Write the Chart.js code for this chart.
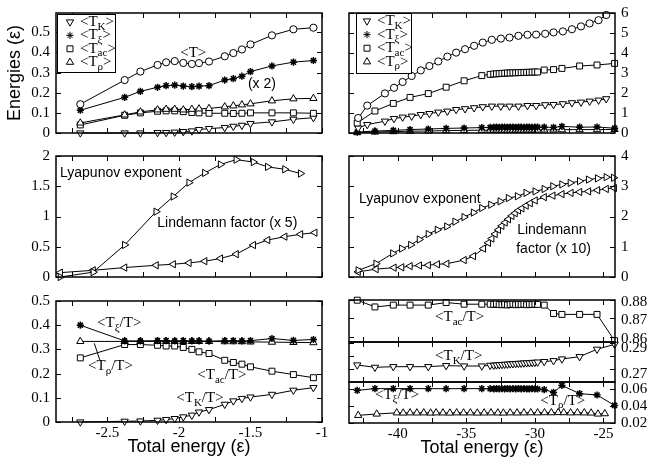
<!DOCTYPE html>
<html>
<head>
<meta charset="utf-8">
<script src="https://cdn.jsdelivr.net/npm/chart.js@4/dist/chart.umd.min.js"></script>
<style>
  html, body { margin: 0; padding: 0; background: #fff; }
  #wrap { position: relative; width: 651px; height: 461px; overflow: hidden; }
  canvas { position: absolute; }
</style>
</head>
<body>
<div id="wrap"></div>
<script>
// ---- datos: paneles de la izquierda (energia total -2.9 .. -1) ----
const xLeft = [-2.69, -2.38, -2.27, -2.15, -2.09, -2.03, -1.97, -1.91, -1.86, -1.79, -1.68, -1.62, -1.56, -1.50, -1.35, -1.20, -1.06];
const tlT    = [0.143, 0.263, 0.305, 0.338, 0.351, 0.357, 0.348, 0.343, 0.347, 0.355, 0.381, 0.397, 0.415, 0.440, 0.485, 0.515, 0.523];
const tlTxi2 = [0.113, 0.177, 0.207, 0.227, 0.235, 0.238, 0.233, 0.230, 0.233, 0.235, 0.263, 0.270, 0.282, 0.305, 0.333, 0.352, 0.360];
const tlTrho = [0.050, 0.090, 0.105, 0.115, 0.118, 0.118, 0.115, 0.118, 0.120, 0.122, 0.130, 0.135, 0.140, 0.145, 0.160, 0.170, 0.172];
const tlTac  = [0.040, 0.088, 0.100, 0.108, 0.110, 0.110, 0.106, 0.102, 0.100, 0.098, 0.098, 0.097, 0.098, 0.100, 0.100, 0.100, 0.098];
const tlTK   = [0.000, 0.000, 0.000, 0.002, 0.002, 0.004, 0.007, 0.010, 0.017, 0.022, 0.027, 0.033, 0.038, 0.047, 0.055, 0.068, 0.076];

const xLyapL = [-2.83, -2.60, -2.38, -2.16, -2.04, -1.93, -1.82, -1.71, -1.60, -1.48, -1.38, -1.26, -1.15];
const lyapL  = [0.00, 0.08, 0.53, 1.08, 1.33, 1.56, 1.72, 1.86, 1.94, 1.90, 1.82, 1.78, 1.71];
const xLindL = [-2.83, -2.60, -2.38, -2.16, -2.04, -1.93, -1.82, -1.71, -1.60, -1.48, -1.38, -1.26, -1.15, -1.05];
const lindL  = [0.072, 0.111, 0.156, 0.194, 0.211, 0.233, 0.261, 0.306, 0.378, 0.528, 0.611, 0.667, 0.706, 0.733];

const blTxi  = [0.400, 0.335, 0.335, 0.336, 0.336, 0.335, 0.336, 0.335, 0.335, 0.334, 0.336, 0.336, 0.335, 0.336, 0.345, 0.337, 0.341];
const blTrho = [0.333, 0.333, 0.333, 0.333, 0.333, 0.333, 0.333, 0.333, 0.333, 0.333, 0.332, 0.332, 0.332, 0.331, 0.330, 0.329, 0.328];
const blTac  = [0.265, 0.320, 0.320, 0.317, 0.314, 0.314, 0.308, 0.300, 0.290, 0.283, 0.255, 0.246, 0.239, 0.228, 0.210, 0.196, 0.183];
const blTK   = [0.000, 0.003, 0.004, 0.007, 0.010, 0.014, 0.021, 0.028, 0.041, 0.051, 0.073, 0.087, 0.097, 0.103, 0.114, 0.131, 0.142];

// ---- datos: paneles de la derecha (energia total -43.5 .. -24) ----
const xTR  = [-42.88, -42.22, -40.93, -40.27, -39.64, -38.98, -38.32, -37.69, -37.04, -36.38, -35.74, -35.09, -34.43, -33.80, -33.14, -32.48, -31.85, -31.20, -30.54, -29.91, -29.25, -28.64, -27.96, -27.30, -26.64, -26.01, -25.36, -24.80];
const trT  = [0.75, 1.37, 1.98, 2.26, 2.55, 2.85, 3.13, 3.35, 3.58, 3.82, 4.02, 4.19, 4.36, 4.52, 4.66, 4.72, 4.77, 4.86, 4.91, 4.92, 4.96, 5.03, 5.08, 5.19, 5.33, 5.48, 5.64, 5.90];
const trTK = [0.25, 0.42, 0.59, 0.72, 0.79, 0.84, 0.92, 0.97, 1.04, 1.09, 1.17, 1.21, 1.26, 1.31, 1.34, 1.34, 1.34, 1.34, 1.37, 1.37, 1.41, 1.42, 1.46, 1.51, 1.54, 1.59, 1.64, 1.71];

const xR = [-42.95, -41.66, -40.32, -39.10, -37.77, -36.47, -35.16, -33.87, -33.26,
            -33.0, -32.8, -32.6, -32.4, -32.2, -32.0, -31.8, -31.6, -31.4, -31.2, -31.0, -30.8, -30.6, -30.4, -30.2, -30.0, -29.8,
            -29.32, -28.64, -28.03, -26.74, -25.47, -24.19];
const trTac  = [0.50, 1.10, 1.48, 1.78, 1.97, 2.29, 2.61, 2.87, 2.93,
                2.95, 2.96, 2.97, 2.98, 2.99, 3.00, 3.00, 3.01, 3.01, 3.02, 3.02, 3.03, 3.03, 3.04, 3.04, 3.05, 3.05,
                3.15, 3.17, 3.23, 3.35, 3.40, 3.48];
const trTxi  = [0.044, 0.10, 0.13, 0.17, 0.20, 0.23, 0.25, 0.27, 0.28,
                0.28, 0.29, 0.28, 0.29, 0.29, 0.28, 0.29, 0.29, 0.28, 0.29, 0.29, 0.28, 0.29, 0.29, 0.28, 0.29, 0.29,
                0.29, 0.28, 0.33, 0.29, 0.30, 0.24];
const trTrho = [0.022, 0.05, 0.07, 0.09, 0.10, 0.12, 0.13, 0.14, 0.145,
                0.145, 0.15, 0.145, 0.15, 0.15, 0.145, 0.15, 0.15, 0.15, 0.155, 0.15, 0.15, 0.155, 0.15, 0.155, 0.155, 0.15,
                0.155, 0.16, 0.165, 0.17, 0.17, 0.18];
const brTac  = [0.8800, 0.8763, 0.8773, 0.8773, 0.8773, 0.8787, 0.8778, 0.8778, 0.8778,
                0.8777, 0.8779, 0.8776, 0.8775, 0.8777, 0.8774, 0.8776, 0.8778, 0.8775, 0.8777, 0.8776, 0.8778, 0.8775, 0.8777, 0.8776, 0.8778, 0.8777,
                0.8773, 0.8727, 0.8722, 0.8722, 0.8722, 0.8578];
const brTK   = [0.2733, 0.2715, 0.2720, 0.2720, 0.2720, 0.2728, 0.2725, 0.2725, 0.2730,
                0.2731, 0.2733, 0.2735, 0.2736, 0.2738, 0.2739, 0.2741, 0.2742, 0.2744, 0.2745, 0.2746, 0.2748, 0.2749, 0.2750, 0.2752, 0.2753, 0.2755,
                0.2759, 0.2766, 0.2779, 0.2797, 0.2854, 0.2892];
const brTxi  = [0.0584, 0.0604, 0.0604, 0.0604, 0.0604, 0.0603, 0.0604, 0.0604, 0.0603,
                0.0602, 0.0604, 0.0601, 0.0603, 0.0602, 0.0604, 0.0601, 0.0603, 0.0602, 0.0604, 0.0601, 0.0603, 0.0602, 0.0601, 0.0603, 0.0602, 0.0600,
                0.0592, 0.0560, 0.0642, 0.0545, 0.0529, 0.0407];
const xRhoR  = [-42.88, -41.53, -40.07, -39.6, -39.1, -38.6, -38.1, -37.6, -37.2, -36.7, -36.2, -35.7, -35.2, -34.7, -34.2, -33.7, -33.2,
                -32.7, -32.3, -31.8, -31.3, -30.8, -30.3, -29.8, -29.3, -28.8, -28.3, -27.9, -27.4, -26.9, -26.4, -25.9, -25.4, -24.9];
const brTrho = [0.0290, 0.0306, 0.0320, 0.0318, 0.0320, 0.0319, 0.0320, 0.0318, 0.0320, 0.0319, 0.0318, 0.0320, 0.0319, 0.0320, 0.0318, 0.0319, 0.0320,
                0.0319, 0.0318, 0.0320, 0.0319, 0.0320, 0.0321, 0.0320, 0.0322, 0.0321, 0.0323, 0.0322, 0.0320, 0.0321, 0.0320, 0.0318, 0.0306, 0.0310];

const xLyapR = [-42.88, -41.58, -40.36, -39.71, -39.05, -38.42, -37.77, -37.11, -36.42, -35.82, -35.16, -34.48, -33.87, -33.21, -32.53, -31.93, -31.27, -30.64, -29.98, -29.32, -28.69, -28.03, -27.42, -26.74, -26.09, -25.43, -24.80, -24.26];
const lyapR  = [0.22, 0.44, 0.78, 0.94, 1.06, 1.24, 1.42, 1.56, 1.67, 1.83, 1.98, 2.13, 2.28, 2.39, 2.50, 2.61, 2.67, 2.78, 2.83, 2.91, 3.00, 3.06, 3.11, 3.17, 3.22, 3.26, 3.30, 3.28];
const xLindR = [-42.88, -41.58, -40.27, -39.71, -39.10, -38.42, -37.77, -37.11, -36.42, -35.16, -34.48, -33.75, -33.39, -33.14, -32.90, -32.66, -32.41, -32.17, -31.93, -31.68, -31.44, -31.20, -30.95, -30.64, -30.34, -29.98, -29.32, -28.69, -28.03, -27.37, -26.74, -26.09, -25.43, -24.80, -24.21];
const lindR  = [0.17, 0.26, 0.31, 0.32, 0.36, 0.38, 0.39, 0.42, 0.44, 0.56, 0.69, 0.94, 1.13, 1.27, 1.42, 1.56, 1.69, 1.80, 1.91, 2.02, 2.11, 2.20, 2.27, 2.36, 2.44, 2.53, 2.64, 2.69, 2.74, 2.78, 2.81, 2.83, 2.87, 2.91, 2.94];

// ---- estilos ----
const SERIF = "'Liberation Serif', 'Times New Roman', serif";
const SANS = "'Liberation Sans', Arial, sans-serif";
const RADIUS = { circle: 3.6, star: 3.6, rect: 4.2, triangle: 4.2 };

// crea un dataset con linea negra y marcadores huecos
function serie(xs, ys, style, rot) {
  return {
    data: xs.map((x, i) => ({ x: x, y: ys[i] })),
    showLine: true,
    borderColor: '#000',
    borderWidth: 1,
    pointStyle: style,
    pointRotation: rot || 0,
    pointRadius: RADIUS[style],
    pointBorderColor: '#000',
    pointBorderWidth: style === 'star' ? 1.5 : 1,
    pointBackgroundColor: style === 'star' ? '#000' : '#fff',
    clip: 8
  };
}

const fmt = v => String(Math.round(v * 10000) / 10000);

// texto con subindices: parts = [[texto, esSub], ...]
function drawText(ctx, px, py, parts, fam, size, align) {
  const sub = Math.round(size * 0.7);
  let w = 0;
  parts.forEach(p => { ctx.font = (p[1] ? sub : size) + 'px ' + fam; w += ctx.measureText(p[0]).width; });
  let x = align === 'center' ? px - w / 2 : px;
  ctx.textBaseline = 'middle';
  ctx.textAlign = 'left';
  parts.forEach(p => {
    ctx.font = (p[1] ? sub : size) + 'px ' + fam;
    ctx.fillText(p[0], x, p[1] ? py + size * 0.32 : py);
    x += ctx.measureText(p[0]).width;
  });
}

// marco, marcas hacia dentro, anotaciones y leyenda
const framePlugin = {
  id: 'frame',
  afterDatasetsDraw(chart, args, o) {
    const { ctx, chartArea: a, scales: { x, y } } = chart;
    ctx.save();
    ctx.strokeStyle = '#000';
    ctx.fillStyle = '#000';
    ctx.lineWidth = 1;
    ctx.beginPath();
    (x.ticks || []).forEach(t => {
      const px = Math.round(x.getPixelForValue(t.value)) + 0.5;
      ctx.moveTo(px, a.bottom); ctx.lineTo(px, a.bottom - 5);
      ctx.moveTo(px, a.top); ctx.lineTo(px, a.top + 5);
    });
    (y.ticks || []).forEach(t => {
      const py = Math.round(y.getPixelForValue(t.value)) + 0.5;
      ctx.moveTo(a.left, py); ctx.lineTo(a.left + 5, py);
      ctx.moveTo(a.right, py); ctx.lineTo(a.right - 5, py);
    });
    ctx.stroke();

    (o.leaders || []).forEach(l => {
      ctx.beginPath();
      ctx.moveTo(x.getPixelForValue(l[0]), y.getPixelForValue(l[1]));
      ctx.lineTo(x.getPixelForValue(l[2]), y.getPixelForValue(l[3]));
      ctx.stroke();
    });

    (o.notes || []).forEach(n => {
      drawText(ctx, x.getPixelForValue(n.x), y.getPixelForValue(n.y), n.parts,
               n.fam === 'sans' ? SANS : SERIF, n.size, n.align || 'left');
    });

    if (o.legend) {
      const L = o.legend;
      const bx = a.left + L.dx, by = a.top + L.dy;
      ctx.fillStyle = '#fff';
      ctx.fillRect(bx, by, L.w, L.h);
      ctx.lineWidth = 1;
      ctx.strokeRect(bx + 0.5, by + 0.5, L.w, L.h);
      L.rows.forEach((r, i) => {
        const cy = by + L.y0 + i * L.dyRow;
        ctx.fillStyle = r.style === 'star' ? '#000' : '#fff';
        ctx.strokeStyle = '#000';
        Chart.helpers.drawPoint(ctx, { pointStyle: r.style, radius: RADIUS[r.style], rotation: r.rot || 0, borderWidth: r.style === 'star' ? 1.5 : 1 }, bx + L.sx, cy);
        ctx.fillStyle = '#000';
        drawText(ctx, bx + L.tx, cy, [['<T', 0], [r.sub, 1], ['>', 0]], SERIF, 15, 'left');
      });
    }

    ctx.lineWidth = 1.5;
    ctx.strokeStyle = '#000';
    ctx.strokeRect(a.left, a.top, a.width, a.height);
    ctx.restore();
  }
};

const wrap = document.getElementById('wrap');

function panel(p) {
  const yW = 52, xH = 36, padH = 10, padV = 20;
  const left = p.side === 'left';
  const cw = (p.r - p.l) + yW + padH;
  const ch = (p.b - p.t) + padV + (p.xLabels ? xH : padV);
  const cv = document.createElement('canvas');
  cv.width = cw; cv.height = ch;
  cv.style.width = cw + 'px'; cv.style.height = ch + 'px';
  cv.style.left = (p.l - (left ? yW : padH)) + 'px';
  cv.style.top = (p.t - padV) + 'px';
  wrap.appendChild(cv);

  const [xmin, xmax, xstep, xlab] = p.x;
  const [ymin, ymax, ystep] = p.y;
  const yShow = p.yShow || (v => true);

  new Chart(cv, {
    type: 'scatter',
    data: { datasets: p.datasets },
    options: {
      responsive: false,
      animation: false,
      devicePixelRatio: 1,
      layout: { padding: { left: left ? 0 : padH, right: left ? padH : 0, top: padV, bottom: p.xLabels ? 0 : padV } },
      plugins: {
        legend: { display: false },
        tooltip: { enabled: false },
        frame: { notes: p.notes, legend: p.legend, leaders: p.leaders }
      },
      scales: {
        x: {
          type: 'linear', min: xmin, max: xmax,
          display: p.xLabels,
          afterFit: s => { s.height = p.xLabels ? xH : 0; },
          grid: { display: false, drawTicks: false },
          border: { display: false },
          ticks: {
            stepSize: xstep, includeBounds: false, autoSkip: false, maxRotation: 0, padding: 2,
            color: '#000', font: { family: SERIF, size: 15 },
            callback: v => (Math.abs(v / xlab - Math.round(v / xlab)) < 1e-6 ? fmt(v) : '')
          },
          title: { display: p.xLabels, text: 'Total energy (ε)', color: '#000', font: { family: SANS, size: 18 }, padding: 0 }
        },
        y: {
          type: 'linear', position: p.side, min: ymin, max: ymax,
          afterFit: s => { s.width = yW; },
          grid: { display: false, drawTicks: false },
          border: { display: false },
          ticks: {
            stepSize: ystep, includeBounds: false, autoSkip: false, padding: 6,
            labelOffset: p.yOffset || 0,
            color: '#000', font: { family: SERIF, size: 15 },
            callback: v => (yShow(v) ? fmt(v) : '')
          },
          title: { display: !!p.yTitle, text: p.yTitle || '', color: '#000', font: { family: SANS, size: 18 }, padding: 0 }
        }
      }
    },
    plugins: [framePlugin]
  });
}

const legendRows = [
  { style: 'triangle', rot: 180, sub: 'K' },
  { style: 'star', sub: 'ξ' },
  { style: 'rect', sub: 'ac' },
  { style: 'triangle', sub: 'ρ' }
];

// arriba izquierda
panel({
  l: 56, t: 13, r: 322, b: 133, side: 'left', xLabels: false,
  x: [-2.86, -1.0, 0.25, 0.5], y: [0, 0.596, 0.1], yTitle: 'Energies (ε)',
  datasets: [
    serie(xLeft, tlT, 'circle'),
    serie(xLeft, tlTxi2, 'star'),
    serie(xLeft, tlTrho, 'triangle'),
    serie(xLeft, tlTac, 'rect'),
    serie(xLeft, tlTK, 'triangle', 180)
  ],
  notes: [
    { x: -1.90, y: 0.395, parts: [['<T>', 0]], fam: 'serif', size: 15, align: 'center' },
    { x: -1.42, y: 0.245, parts: [['(x 2)', 0]], fam: 'sans', size: 14, align: 'center' }
  ],
  legend: { dx: 1, dy: 1, w: 58, h: 58, sx: 13, tx: 23, y0: 8, dyRow: 13.4, rows: legendRows }
});

// arriba derecha
panel({
  l: 349, t: 13, r: 615, b: 133, side: 'right', xLabels: false,
  x: [-43.55, -24.16, 2.5, 5], y: [0, 6, 1],
  datasets: [
    serie(xTR, trT, 'circle'),
    serie(xR, trTac, 'rect'),
    serie(xTR, trTK, 'triangle', 180),
    serie(xR, trTxi, 'star'),
    serie(xR, trTrho, 'triangle')
  ],
  legend: { dx: 7, dy: 0, w: 55, h: 60, sx: 11, tx: 21, y0: 8, dyRow: 13.6, rows: legendRows }
});

// centro izquierda
panel({
  l: 56, t: 156, r: 322, b: 277, side: 'left', xLabels: false,
  x: [-2.86, -1.0, 0.25, 0.5], y: [0, 2, 0.5],
  datasets: [
    serie(xLyapL, lyapL, 'triangle', 90),
    serie(xLindL, lindL, 'triangle', 270)
  ],
  notes: [
    { x: -2.832, y: 1.72, parts: [['Lyapunov exponent', 0]], fam: 'sans', size: 14 },
    { x: -2.152, y: 0.89, parts: [['Lindemann factor (x 5)', 0]], fam: 'sans', size: 14 }
  ]
});

// centro derecha
panel({
  l: 349, t: 156, r: 615, b: 277, side: 'right', xLabels: false,
  x: [-43.55, -24.16, 2.5, 5], y: [0, 4, 1],
  datasets: [
    serie(xLyapR, lyapR, 'triangle', 90),
    serie(xLindR, lindR, 'triangle', 270)
  ],
  notes: [
    { x: -42.82, y: 2.58, parts: [['Lyapunov exponent', 0]], fam: 'sans', size: 14 },
    { x: -31.29, y: 1.55, parts: [['Lindemann', 0]], fam: 'sans', size: 14 },
    { x: -31.36, y: 0.93, parts: [['factor (x 10)', 0]], fam: 'sans', size: 14 }
  ]
});

// abajo izquierda
panel({
  l: 56, t: 301, r: 322, b: 422, side: 'left', xLabels: true,
  x: [-2.86, -1.0, 0.25, 0.5], y: [0, 0.5, 0.1],
  datasets: [
    serie(xLeft, blTxi, 'star'),
    serie(xLeft, blTrho, 'triangle'),
    serie(xLeft, blTac, 'rect'),
    serie(xLeft, blTK, 'triangle', 180)
  ],
  leaders: [[-2.592, 0.325, -2.552, 0.253]],
  notes: [
    { x: -2.573, y: 0.409, parts: [['<T', 0], ['ξ', 1], ['/T>', 0]], fam: 'serif', size: 15 },
    { x: -2.636, y: 0.231, parts: [['<T', 0], ['ρ', 1], ['/T>', 0]], fam: 'serif', size: 15 },
    { x: -1.872, y: 0.194, parts: [['<T', 0], ['ac', 1], ['/T>', 0]], fam: 'serif', size: 15 },
    { x: -2.019, y: 0.099, parts: [['<T', 0], ['K', 1], ['/T>', 0]], fam: 'serif', size: 15 }
  ]
});

// abajo derecha: tres tramos del eje y
panel({
  l: 349, t: 300, r: 615, b: 342, side: 'right', xLabels: false,
  x: [-43.55, -24.16, 2.5, 5], y: [0.85705, 0.8801, 0.01], yOffset: 2,
  datasets: [serie(xR, brTac, 'rect')],
  notes: [{ x: -37.28, y: 0.8707, parts: [['<T', 0], ['ac', 1], ['/T>', 0]], fam: 'serif', size: 15 }]
});
panel({
  l: 349, t: 342, r: 615, b: 382, side: 'right', xLabels: false,
  x: [-43.55, -24.16, 2.5, 5], y: [0.2602, 0.291, 0.01], yOffset: 5,
  yShow: v => Math.abs(v - 0.28) > 0.001,
  datasets: [serie(xR, brTK, 'triangle', 180)],
  notes: [{ x: -37.28, y: 0.2802, parts: [['<T', 0], ['K', 1], ['/T>', 0]], fam: 'serif', size: 15 }]
});
panel({
  l: 349, t: 382, r: 615, b: 423, side: 'right', xLabels: true,
  x: [-43.55, -24.16, 2.5, 5], y: [0.02, 0.0682, 0.02],
  datasets: [
    serie(xR, brTxi, 'star'),
    serie(xRhoR, brTrho, 'triangle')
  ],
  notes: [
    { x: -41.66, y: 0.0533, parts: [['<T', 0], ['ξ', 1], ['/T>', 0]], fam: 'serif', size: 15 },
    { x: -29.6, y: 0.0462, parts: [['<T', 0], ['ρ', 1], ['/T>', 0]], fam: 'serif', size: 15 }
  ]
});
</script>
</body>
</html>
